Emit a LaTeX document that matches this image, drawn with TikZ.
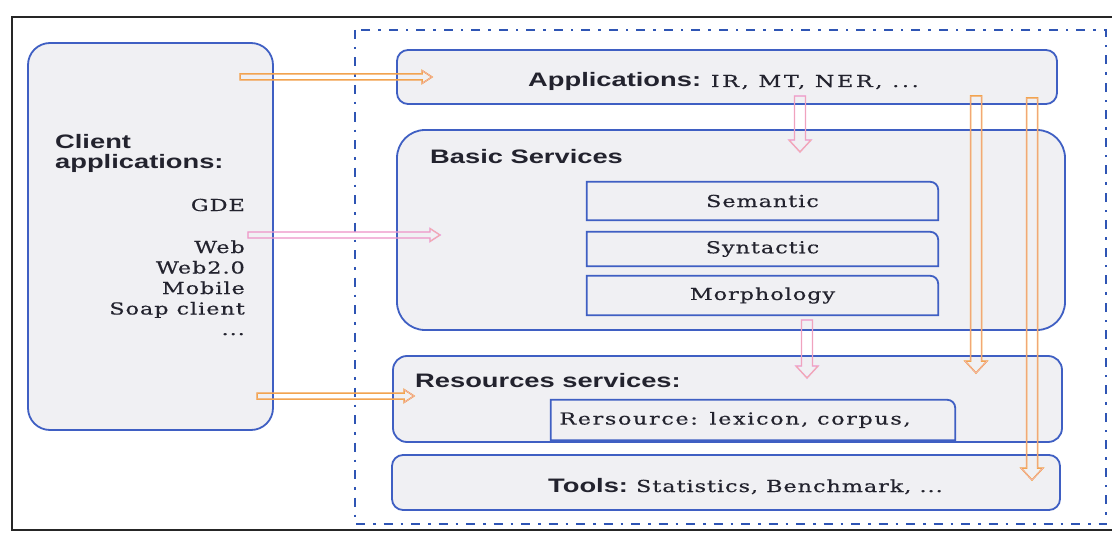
\documentclass[tikz,border=0pt]{standalone}
\usepackage{fontspec}
\setmainfont{DejaVu Serif}[FakeStretch=1.35, LetterSpace=6, FakeBold=0.5]
\newfontfamily\headfont{Liberation Sans}[FakeStretch=1.4]
\usetikzlibrary{calc}

\definecolor{boxblue}{HTML}{3F5FC3}
\definecolor{boxfill}{HTML}{F0F0F3}
\definecolor{frameblue}{HTML}{2F55B4}
\definecolor{arrorange}{HTML}{F3A33A}
\definecolor{arrpink}{HTML}{EC8FD9}
\definecolor{ink}{HTML}{23232E}

\newcommand{\headtxt}{\headfont\bfseries\fontsize{19.5}{20}\selectfont}
\newcommand{\itemtxt}{\fontsize{16.5}{20.5}\selectfont}

\begin{document}
\begin{tikzpicture}[x=1pt, y=-1pt,
  layer/.style={draw=boxblue, fill=boxfill, line width=1.8pt, rounded corners=#1, inner sep=0pt},
  tabshape/.style={inner sep=0pt, minimum width=#1},
  tabline/.style={draw=boxblue, fill=boxfill, line width=1.8pt},
  head/.style={text=ink, font=\headtxt, inner sep=0pt},
  item/.style={text=ink, font=\itemtxt, inner sep=0pt},
  hollow/.style n args={3}{fill=white, line join=miter,
    to path={let \p1=(\tikztostart), \p2=(\tikztotarget),
      \n1={veclen(\x2-\x1,\y2-\y1)}, \n2={atan2(\y2-\y1,\x2-\x1)} in
      {[shift={(\p1)}, rotate=\n2]
        (0,-#1) -- ({\n1-#3},-#1) -- ({\n1-#3},-#2) -- ({\n1},0)
        -- ({\n1-#3},#2) -- ({\n1-#3},#1) -- (0,#1) -- cycle}}},
  orangearrow/.style={draw=arrorange, line width=1.5pt,
    postaction={draw=arrpink!70!white, line width=0.4pt}},
  pinkarrow/.style={draw=arrpink, line width=1.4pt,
    postaction={draw=arrorange!60!white, line width=0.4pt}}
]
\useasboundingbox (0,0) rectangle (1112,535);

% outer page frame
\draw[black!85, line width=1.2pt] (1112,17) -- (12,17) -- (12,530) -- (1112,530);

% dash-dotted frame around the platform
\draw[frameblue, line width=2pt, dash pattern=on 9pt off 8pt on 2.5pt off 8pt]
  (355,30) rectangle (1106,524);

% client side
\node[layer=22pt, minimum width=245pt, minimum height=387pt] (client) at (150.5,236.5) {};
\node[head, anchor=base west, align=left] (clienttitle) at (55,168)
  {Client\\applications:};
\node[item, anchor=base east] (gde) at (245,211) {GDE};
\node[item, anchor=base east, align=right] (clientlist) at (245,335)
  {Web\\Web2.0\\Mobile\\Soap client\\...};

% platform layers
\node[layer=11pt, minimum width=660pt, minimum height=54pt] (apps) at (727,77) {};
\node[anchor=base west, inner sep=0pt, text=ink] (appstext) at (528,87)
  {{\headtxt Applications:}\itemtxt\addfontfeatures{LetterSpace=16}\ IR, MT, NER, ...};

\node[layer=28pt, minimum width=668pt, minimum height=200pt] (basic) at (731,230) {};
\node[head, anchor=base west] (basictitle) at (430,163) {Basic Services};

\node[layer=14pt, minimum width=669pt, minimum height=86pt] (res) at (727.5,399) {};
\node[head, anchor=base west] (restitle) at (415,387) {Resources services:};

\node[layer=11pt, minimum width=668pt, minimum height=55pt] (tools) at (726,482.5) {};
\node[anchor=base west, inner sep=0pt, text=ink] (toolstext) at (548,492)
  {{\headtxt Tools:}\itemtxt\ Statistics, Benchmark, ...};

% inner service boxes: square corners except the top right one
\node[tabshape=351pt, minimum height=38pt] (sem) at (762.5,201) {};
\node[tabshape=351pt, minimum height=34pt] (syn) at (762.5,249) {};
\node[tabshape=351pt, minimum height=39pt] (mor) at (762.5,295.5) {};
\node[tabshape=404pt, minimum height=40pt] (rer) at (753,420) {};
\foreach \b in {sem,syn,mor,rer}{
  \draw[tabline] (\b.south west) -- (\b.north west) -- ([xshift=-8pt]\b.north east)
    to[out=0,in=90] ([yshift=-8pt]\b.north east) -- (\b.south east) -- cycle;
}
\node[item] (semtext) at (sem) {Semantic};
\node[item] (syntext) at (syn) {Syntactic};
\node[item] (mortext) at (mor) {Morphology};
\node[item, font=\itemtxt\addfontfeatures{LetterSpace=10}] (rertext)
  at ([xshift=-18pt]rer.center) {Rersource: lexicon, corpus,};

% arrow end points
\coordinate (h1s) at (240,77);   \coordinate (h1e) at (432,77);
\coordinate (h2s) at (248,235);  \coordinate (h2e) at (440,235);
\coordinate (h3s) at (257,396);  \coordinate (h3e) at (414,396);
\coordinate (v1s) at (800,96);   \coordinate (v1e) at (800,152);
\coordinate (v2s) at (976,96);   \coordinate (v2e) at (976,373);
\coordinate (v3s) at (1032,98);  \coordinate (v3e) at (1032,480);
\coordinate (v4s) at (807,320);  \coordinate (v4e) at (807,378);

% hollow arrows
\draw[orangearrow] (h1s) to[hollow={3}{6.5}{10}] (h1e);
\draw[pinkarrow]   (h2s) to[hollow={3}{6.5}{10}] (h2e);
\draw[orangearrow] (h3s) to[hollow={3}{6.5}{10}] (h3e);
\draw[pinkarrow]   (v1s) to[hollow={5.5}{11}{12}] (v1e);
\draw[orangearrow] (v2s) to[hollow={5.5}{11}{12}] (v2e);
\draw[orangearrow] (v3s) to[hollow={5.5}{11}{12}] (v3e);
\draw[pinkarrow]   (v4s) to[hollow={5.5}{11}{12}] (v4e);
\end{tikzpicture}
\end{document}
